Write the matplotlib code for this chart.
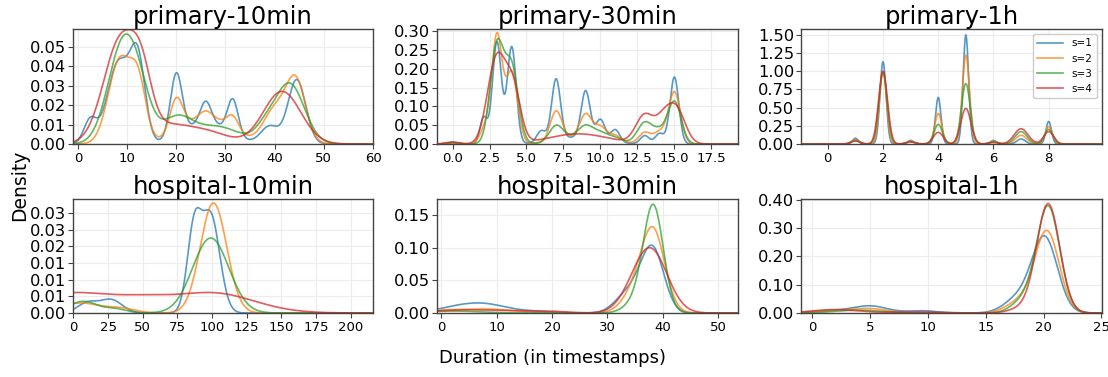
import numpy as np
import matplotlib
matplotlib.use("Agg")
import matplotlib.pyplot as plt
from matplotlib.ticker import FormatStrFormatter

# density curves read off the picture as bumps: (centre, height, width)
# one list per series s=1..4

series_labels = ["s=1", "s=2", "s=3", "s=4"]
panel_titles = ["primary-10min", "primary-30min", "primary-1h",
                "hospital-10min", "hospital-30min", "hospital-1h"]

primary_10min = [
    [(2.5, 0.012, 1.3), (8.3, 0.042, 2.3), (12.2, 0.040, 1.5), (20, 0.032, 1.2),
     (26, 0.011, 1.1), (31.5, 0.018, 1.1), (26, 0.011, 4.5), (39, 0.009, 1.8),
     (44.5, 0.033, 1.8)],
    [(8.5, 0.043, 2.3), (12.3, 0.028, 1.6), (20, 0.017, 1.3), (26, 0.014, 5.0),
     (26, 0.003, 1.2), (31.5, 0.007, 1.2), (40, 0.017, 2.3), (44.3, 0.032, 2.0)],
    [(9, 0.048, 3.0), (12.5, 0.018, 2.5), (20, 0.012, 3.0), (28, 0.009, 5.0),
     (38, 0.006, 2.0), (43, 0.031, 3.0)],
    [(8.8, 0.054, 3.5), (13, 0.020, 2.0), (19, 0.009, 4.5), (27, 0.005, 4.0),
     (41.5, 0.027, 3.8)],
]

primary_30min = [
    [(0, 0.005, 0.25), (2.1, 0.07, 0.25), (3, 0.272, 0.3), (4, 0.258, 0.3),
     (8.5, 0.018, 1.6), (6, 0.03, 0.3), (7, 0.162, 0.3), (9, 0.125, 0.3),
     (10, 0.054, 0.3), (11, 0.033, 0.3), (13, 0.022, 0.3), (14, 0.028, 0.3),
     (15, 0.178, 0.3)],
    [(0, 0.003, 0.35), (2.2, 0.04, 0.35), (3, 0.285, 0.35), (4, 0.19, 0.4),
     (9, 0.02, 1.5), (7, 0.08, 0.4), (9, 0.06, 0.4), (10, 0.03, 0.4),
     (11, 0.015, 0.4), (13, 0.03, 0.4), (14, 0.03, 0.4), (15, 0.138, 0.4)],
    [(0, 0.003, 0.4), (3, 0.26, 0.45), (4, 0.2, 0.45), (9, 0.025, 1.5),
     (7, 0.04, 0.45), (9, 0.025, 0.45), (10, 0.012, 0.45), (11, 0.008, 0.45),
     (13, 0.056, 0.5), (14, 0.03, 0.45), (15, 0.112, 0.45)],
    [(0, 0.005, 0.5), (2.5, 0.06, 0.5), (3.1, 0.195, 0.55), (4.1, 0.142, 0.5),
     (8.5, 0.027, 2.0), (13, 0.076, 0.6), (14.2, 0.05, 0.5), (15.1, 0.095, 0.6)],
]

primary_1h = [
    [(1, 0.08, 0.1), (2, 1.13, 0.11), (3, 0.05, 0.1), (4, 0.64, 0.1),
     (5, 1.5, 0.1), (6, 0.05, 0.1), (7, 0.07, 0.15), (8, 0.31, 0.1)],
    [(1, 0.06, 0.13), (2, 1.0, 0.13), (3, 0.04, 0.13), (4, 0.42, 0.13),
     (5, 1.22, 0.13), (6, 0.04, 0.13), (7, 0.12, 0.2), (8, 0.24, 0.13)],
    [(1, 0.05, 0.15), (2, 0.98, 0.15), (3, 0.03, 0.15), (4, 0.27, 0.15),
     (5, 0.83, 0.16), (6, 0.03, 0.15), (7, 0.17, 0.22), (8, 0.2, 0.15)],
    [(1, 0.04, 0.17), (2, 1.0, 0.16), (3, 0.03, 0.17), (4, 0.16, 0.18),
     (5, 0.49, 0.18), (6, 0.02, 0.17), (7, 0.21, 0.25), (8, 0.17, 0.18)],
]

hospital_10min = [
    [(10, 0.003, 7), (27, 0.004, 8), (87, 0.0245, 5), (99, 0.029, 6.5)],
    [(5, 0.003, 15), (35, 0.0012, 10), (101, 0.033, 9.5)],
    [(7, 0.0035, 10), (30, 0.0012, 8), (99, 0.0225, 13)],
    [(0, 0.006, 30), (50, 0.0025, 20), (100, 0.006, 30)],
]

hospital_30min = [
    [(1, 0.003, 3), (7, 0.015, 4.5), (17, 0.002, 3), (32, 0.006, 1.8),
     (35, 0.035, 2.5), (38.3, 0.088, 2.0)],
    [(0, 0.003, 3), (8, 0.006, 5), (35, 0.03, 2.3), (38.3, 0.121, 2.1)],
    [(2, 0.003, 5), (35, 0.015, 2.0), (38.3, 0.163, 1.8)],
    [(3, 0.004, 5), (12, 0.003, 5), (20, 0.002, 3), (34, 0.01, 2.5),
     (37.8, 0.097, 3.0)],
]

hospital_1h = [
    [(1.5, 0.008, 1.5), (5, 0.025, 1.5), (9.5, 0.008, 1.2), (17.8, 0.05, 1.2),
     (20.1, 0.264, 1.1)],
    [(2, 0.008, 1.5), (5, 0.015, 1.5), (18, 0.04, 1.2), (20.3, 0.285, 1.05)],
    [(4, 0.01, 2), (18.2, 0.04, 1.0), (20.4, 0.375, 1.0)],
    [(2, 0.012, 2), (9, 0.004, 2), (18, 0.015, 1.0), (20.4, 0.385, 1.0)],
]

panels = [primary_10min, primary_30min, primary_1h,
          hospital_10min, hospital_30min, hospital_1h]

# axis setup per panel
xlims = [(-1, 60), (-1.05, 19.3), (-0.97, 9.93), (-0.3, 216), (-0.8, 53.6), (-0.95, 25.05)]
ylims = [0.059, 0.306, 1.58, 0.0342, 0.175, 0.402]
xticks = [np.arange(0, 61, 10), np.arange(0, 17.6, 2.5), np.arange(0, 9, 2),
          np.arange(0, 201, 25), np.arange(0, 51, 10), np.arange(0, 26, 5)]
yticks = [np.arange(0, 0.051, 0.01), np.arange(0, 0.31, 0.05), np.arange(0, 1.51, 0.25),
          np.arange(0, 0.031, 0.005), np.arange(0, 0.151, 0.05), np.arange(0, 0.41, 0.1)]

colors = ["tab:blue", "tab:orange", "tab:green", "tab:red"]


def density(x, bumps):
    y = np.zeros_like(x)
    for mu, h, sd in bumps:
        y += h * np.exp(-0.5 * ((x - mu) / sd) ** 2)
    return y


W, H = 1108, 377
fig = plt.figure(figsize=(W / 100, H / 100), dpi=100)

cols = [(73, 373), (437, 738), (801, 1102)]
rows = [(29, 144), (199, 313)]

for i, bumps_list in enumerate(panels):
    r, c = divmod(i, 3)
    x0, x1 = cols[c]
    top, bot = rows[r]
    ax = fig.add_axes([x0 / W, 1 - bot / H, (x1 - x0) / W, (bot - top) / H])

    lo, hi = xlims[i]
    x = np.linspace(lo, hi, 1500)
    for k, bumps in enumerate(bumps_list):
        ax.plot(x, density(x, bumps), color=colors[k], lw=1.2, alpha=0.75,
                label=series_labels[k])

    ax.set_xlim(lo, hi)
    ax.set_ylim(0, ylims[i])
    ax.set_xticks(xticks[i])
    ax.set_yticks(yticks[i])
    ax.yaxis.set_major_formatter(FormatStrFormatter("%.2f"))
    if i == 1:
        ax.xaxis.set_major_formatter(FormatStrFormatter("%.1f"))
    ax.grid(True, color="#ececec", lw=0.8)
    ax.set_axisbelow(True)
    for s in ax.spines.values():
        s.set_color("#444444")
        s.set_linewidth(1.0)
    ax.tick_params(axis="y", labelsize=11.7, length=3.5, width=0.8,
                   color="#444444", pad=1.5)
    ax.tick_params(axis="x", labelsize=9.5, length=3.5, width=0.8,
                   color="#444444", pad=2)
    ax.set_title(panel_titles[i], fontsize=17.5, pad=3)

    if i == 2:
        ax.legend(loc="upper right", fontsize=7.5, framealpha=1,
                  edgecolor="#cccccc", handlelength=2.5)

fig.text(0.018, 0.508, "Density", rotation=90, fontsize=13.5, ha="center", va="center")
fig.text(0.499, 0.05, "Duration (in timestamps)", fontsize=13, ha="center", va="center")

fig.savefig("out.png", dpi=100)
